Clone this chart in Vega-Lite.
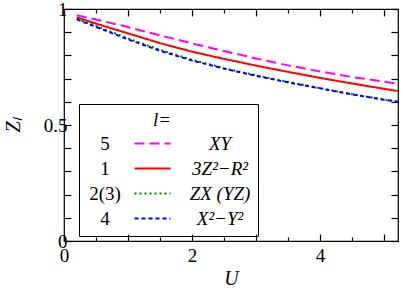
{
  "$schema": "https://vega.github.io/schema/vega-lite/v6.json",
  "width": 334,
  "height": 232,
  "autosize": "none",
  "padding": {"left": 64, "top": 9, "right": 5, "bottom": 51},
  "background": "white",
  "config": {
    "view": {"stroke": "black", "strokeWidth": 1.2},
    "font": "Liberation Serif",
    "axis": {
      "grid": false,
      "domain": false,
      "tickColor": "black",
      "tickWidth": 1.2,
      "labelColor": "black",
      "labelFont": "Liberation Serif",
      "labelFontSize": 19,
      "labelFlush": false,
      "labelBound": false,
      "labelOverlap": false,
      "titleColor": "black",
      "titleFont": "Liberation Serif",
      "titleFontSize": 20,
      "titleFontStyle": "italic",
      "titleFontWeight": "normal"
    },
    "legend": {
      "labelFont": "Liberation Serif",
      "titleFont": "Liberation Serif",
      "labelColor": "black",
      "titleColor": "black"
    }
  },
  "data": {
    "values": [
      {"U": 0.2, "Z": 0.973, "orbital": "XY", "l": "5"},
      {"U": 0.5, "Z": 0.955, "orbital": "XY", "l": "5"},
      {"U": 1.0, "Z": 0.922, "orbital": "XY", "l": "5"},
      {"U": 1.5, "Z": 0.886, "orbital": "XY", "l": "5"},
      {"U": 2.0, "Z": 0.852, "orbital": "XY", "l": "5"},
      {"U": 2.5, "Z": 0.819, "orbital": "XY", "l": "5"},
      {"U": 3.0, "Z": 0.787, "orbital": "XY", "l": "5"},
      {"U": 3.5, "Z": 0.757, "orbital": "XY", "l": "5"},
      {"U": 4.0, "Z": 0.731, "orbital": "XY", "l": "5"},
      {"U": 4.5, "Z": 0.707, "orbital": "XY", "l": "5"},
      {"U": 5.0, "Z": 0.687, "orbital": "XY", "l": "5"},
      {"U": 5.22, "Z": 0.678, "orbital": "XY", "l": "5"},
      {"U": 0.2, "Z": 0.964, "orbital": "3Z²−R²", "l": "1"},
      {"U": 0.5, "Z": 0.937, "orbital": "3Z²−R²", "l": "1"},
      {"U": 1.0, "Z": 0.895, "orbital": "3Z²−R²", "l": "1"},
      {"U": 1.5, "Z": 0.853, "orbital": "3Z²−R²", "l": "1"},
      {"U": 2.0, "Z": 0.816, "orbital": "3Z²−R²", "l": "1"},
      {"U": 2.5, "Z": 0.785, "orbital": "3Z²−R²", "l": "1"},
      {"U": 3.0, "Z": 0.756, "orbital": "3Z²−R²", "l": "1"},
      {"U": 3.5, "Z": 0.729, "orbital": "3Z²−R²", "l": "1"},
      {"U": 4.0, "Z": 0.703, "orbital": "3Z²−R²", "l": "1"},
      {"U": 4.5, "Z": 0.679, "orbital": "3Z²−R²", "l": "1"},
      {"U": 5.0, "Z": 0.656, "orbital": "3Z²−R²", "l": "1"},
      {"U": 5.22, "Z": 0.646, "orbital": "3Z²−R²", "l": "1"},
      {"U": 0.2, "Z": 0.958, "orbital": "ZX (YZ)", "l": "2(3)"},
      {"U": 0.5, "Z": 0.927, "orbital": "ZX (YZ)", "l": "2(3)"},
      {"U": 1.0, "Z": 0.873, "orbital": "ZX (YZ)", "l": "2(3)"},
      {"U": 1.5, "Z": 0.824, "orbital": "ZX (YZ)", "l": "2(3)"},
      {"U": 2.0, "Z": 0.781, "orbital": "ZX (YZ)", "l": "2(3)"},
      {"U": 2.5, "Z": 0.745, "orbital": "ZX (YZ)", "l": "2(3)"},
      {"U": 3.0, "Z": 0.714, "orbital": "ZX (YZ)", "l": "2(3)"},
      {"U": 3.5, "Z": 0.686, "orbital": "ZX (YZ)", "l": "2(3)"},
      {"U": 4.0, "Z": 0.659, "orbital": "ZX (YZ)", "l": "2(3)"},
      {"U": 4.5, "Z": 0.633, "orbital": "ZX (YZ)", "l": "2(3)"},
      {"U": 5.0, "Z": 0.610, "orbital": "ZX (YZ)", "l": "2(3)"},
      {"U": 5.22, "Z": 0.600, "orbital": "ZX (YZ)", "l": "2(3)"},
      {"U": 0.2, "Z": 0.955, "orbital": "X²−Y²", "l": "4"},
      {"U": 0.5, "Z": 0.923, "orbital": "X²−Y²", "l": "4"},
      {"U": 1.0, "Z": 0.869, "orbital": "X²−Y²", "l": "4"},
      {"U": 1.5, "Z": 0.820, "orbital": "X²−Y²", "l": "4"},
      {"U": 2.0, "Z": 0.778, "orbital": "X²−Y²", "l": "4"},
      {"U": 2.5, "Z": 0.743, "orbital": "X²−Y²", "l": "4"},
      {"U": 3.0, "Z": 0.712, "orbital": "X²−Y²", "l": "4"},
      {"U": 3.5, "Z": 0.684, "orbital": "X²−Y²", "l": "4"},
      {"U": 4.0, "Z": 0.658, "orbital": "X²−Y²", "l": "4"},
      {"U": 4.5, "Z": 0.632, "orbital": "X²−Y²", "l": "4"},
      {"U": 5.0, "Z": 0.609, "orbital": "X²−Y²", "l": "4"},
      {"U": 5.22, "Z": 0.600, "orbital": "X²−Y²", "l": "4"}
    ]
  },
  "layer": [
    {
      "mark": {"type": "line", "strokeWidth": 2},
      "encoding": {
        "x": {
          "field": "U", "type": "quantitative",
          "scale": {"domain": [0, 5.22], "nice": false, "zero": false},
          "axis": {
            "orient": "bottom",
            "title": "U",
            "values": [0, 0.5, 1, 1.5, 2, 2.5, 3, 3.5, 4, 4.5, 5],
            "format": "~g",
            "labelExpr": "datum.value % 2 === 0 ? datum.label : ''",
            "tickSize": {"condition": {"test": "datum.value % 1 === 0", "value": -7}, "value": -4},
            "labelPadding": 12,
            "titlePadding": 0
          }
        },
        "y": {
          "field": "Z", "type": "quantitative",
          "scale": {"domain": [0, 1], "nice": false},
          "axis": {
            "orient": "left",
            "title": "Zₗ",
            "values": [0, 0.1, 0.2, 0.3, 0.4, 0.5, 0.6, 0.7, 0.8, 0.9, 1],
            "format": "~g",
            "labelExpr": "datum.value === 0 || datum.value === 0.5 || datum.value === 1 ? datum.label : ''",
            "tickSize": -7,
            "labelPadding": 4,
            "titlePadding": 20
          }
        },
        "color": {
          "field": "orbital", "type": "nominal",
          "scale": {"domain": ["XY", "3Z²−R²", "ZX (YZ)", "X²−Y²"], "range": ["#ff00ff", "#ff0000", "#008000", "#0000ff"]},
          "legend": {
            "title": "l=", "titleOpacity": 0,
            "orient": "none", "legendX": 15, "legendY": 95,
            "strokeColor": "black", "padding": 7, "cornerRadius": 0,
            "titleFontSize": 19, "titleFontStyle": "italic", "titleFontWeight": "normal", "titlePadding": 4,
            "labelFontSize": 19, "labelFontStyle": "italic", "labelAlign": "center", "labelOffset": 58,
            "symbolType": "M-3,0H3", "symbolSize": 144, "symbolStrokeWidth": 2, "symbolOffset": 57,
            "rowPadding": 5
          }
        },
        "strokeDash": {
          "field": "orbital", "type": "nominal",
          "scale": {"domain": ["XY", "3Z²−R²", "ZX (YZ)", "X²−Y²"], "range": [[10, 5], [1, 0], [2, 3], [4, 3]]},
          "legend": {
            "title": "l=", "titleOpacity": 0,
            "orient": "none", "legendX": 15, "legendY": 95,
            "strokeColor": "black", "padding": 7, "cornerRadius": 0,
            "titleFontSize": 19, "titleFontStyle": "italic", "titleFontWeight": "normal", "titlePadding": 4,
            "labelFontSize": 19, "labelFontStyle": "italic", "labelAlign": "center", "labelOffset": 58,
            "symbolType": "M-3,0H3", "symbolSize": 144, "symbolStrokeWidth": 2, "symbolOffset": 57,
            "rowPadding": 5
          }
        },
        "opacity": {
          "field": "l", "type": "nominal",
          "scale": {"domain": ["5", "1", "2(3)", "4"], "range": [1, 1, 1, 1]},
          "legend": {
            "title": "l=", "titleAnchor": "end",
            "orient": "none", "legendX": 15, "legendY": 95,
            "padding": 7,
            "titleFontSize": 19, "titleFontStyle": "italic", "titleFontWeight": "normal", "titlePadding": 4,
            "labelFontSize": 19, "labelAlign": "center", "labelOffset": -57,
            "symbolType": "M-3,0H3", "symbolSize": 144, "symbolOpacity": 0, "symbolStrokeWidth": 0, "symbolOffset": 57,
            "rowPadding": 5
          }
        }
      }
    },
    {
      "mark": {"type": "line", "strokeOpacity": 0},
      "encoding": {
        "x": {
          "field": "U", "type": "quantitative",
          "axis": {
            "orient": "top", "title": null, "labels": false,
            "values": [0, 0.5, 1, 1.5, 2, 2.5, 3, 3.5, 4, 4.5, 5],
            "tickSize": {"condition": {"test": "datum.value % 1 === 0", "value": -7}, "value": -4}
          }
        },
        "y": {
          "field": "Z", "type": "quantitative",
          "axis": {
            "orient": "right", "title": null, "labels": false,
            "values": [0, 0.1, 0.2, 0.3, 0.4, 0.5, 0.6, 0.7, 0.8, 0.9, 1],
            "tickSize": -7
          }
        },
        "detail": {"field": "orbital"}
      }
    }
  ],
  "resolve": {"axis": {"x": "independent", "y": "independent"}}
}
